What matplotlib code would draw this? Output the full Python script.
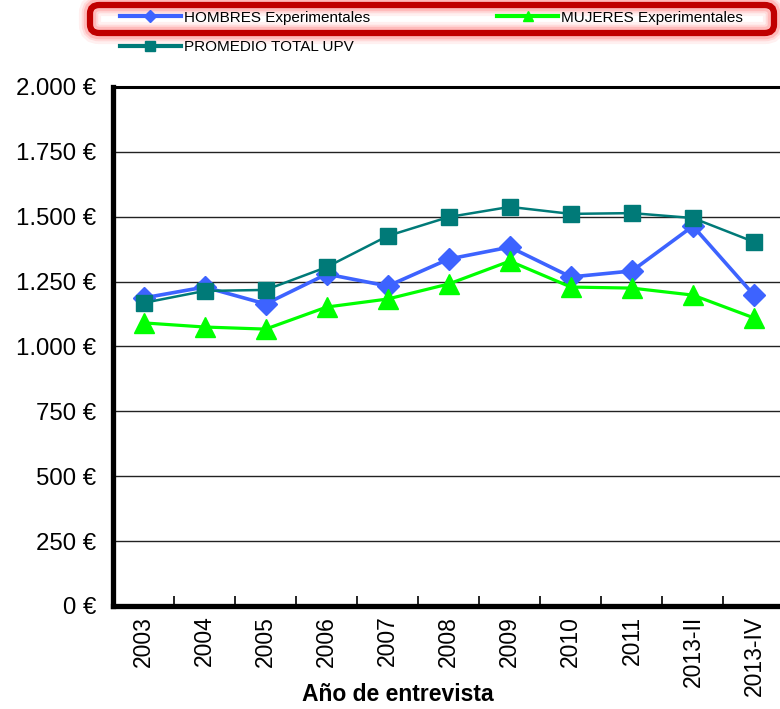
import numpy as np
import matplotlib.pyplot as plt
from matplotlib.lines import Line2D
from matplotlib.patches import FancyBboxPatch

plt.rcParams['font.family'] = ['Liberation Sans', 'DejaVu Sans']

# Datos
categorias = ['2003', '2004', '2005', '2006', '2007', '2008', '2009',
              '2010', '2011', '2013-II', '2013-IV']
hombres = [1187, 1229, 1164, 1279, 1233, 1337, 1383, 1268, 1291, 1464, 1198]
mujeres = [1091, 1075, 1067, 1152, 1183, 1241, 1329, 1229, 1225, 1198, 1110]
promedio = [1168, 1214, 1218, 1306, 1426, 1499, 1538, 1511, 1514, 1495, 1403]
yticks = [0, 250, 500, 750, 1000, 1250, 1500, 1750, 2000]

c_hom = '#3D63FF'
c_muj = '#00FF00'
c_pro = '#007A78'

fig = plt.figure(figsize=(7.8, 7.09), dpi=100)
ax = fig.add_axes([0.1449, 0.1453, 0.8609, 0.732])

x = np.arange(len(categorias))
ax.plot(x, hombres, color=c_hom, lw=2.6, marker='D', ms=11, zorder=3)
ax.plot(x, mujeres, color=c_muj, lw=2.3, marker='^', ms=14, zorder=4)
ax.plot(x, promedio, color=c_pro, lw=1.8, marker='s', ms=12, zorder=5)

ax.set_xlim(-0.5, len(categorias) - 0.5)
ax.set_ylim(0, 2000)
ax.set_yticks(yticks)
ax.set_yticklabels([f'{v:,} €'.replace(',', '.') for v in yticks])
ax.yaxis.grid(True, color='#222222', lw=1.0)
ax.set_axisbelow(True)
ax.tick_params(axis='y', length=0, pad=12, labelsize=17.3)

# ticks del eje x en los limites de categoria
ax.set_xticks(np.arange(len(categorias) + 1) - 0.5)
ax.set_xticklabels([])
ax.set_xticks(x, minor=True)
ax.set_xticklabels(categorias, minor=True, rotation=90, va='top', fontsize=16.5)
ax.tick_params(axis='x', which='major', direction='in', length=7, width=1.2)
ax.tick_params(axis='x', which='minor', length=0, pad=7)
ax.set_xlabel('Año de entrevista', fontsize=16.5, fontweight='bold', va='center')
ax.xaxis.set_label_coords(0.424, -0.171)

ax.spines['left'].set_linewidth(3.8)
ax.spines['bottom'].set_linewidth(3.8)
ax.spines['top'].set_linewidth(2.2)
ax.spines['right'].set_visible(False)

# leyenda
handles = [
    Line2D([], [], color=c_hom, lw=3, marker='D', ms=6),
    Line2D([], [], color=c_pro, lw=3, marker='s', ms=7),
    Line2D([], [], color=c_muj, lw=3, marker='^', ms=7),
]
labels = ['HOMBRES Experimentales', 'PROMEDIO TOTAL UPV', 'MUJERES Experimentales']
fig.legend(handles, labels, ncol=2, loc='upper left', bbox_to_anchor=(0.14, 1.0),
           frameon=False, fontsize=11, handlelength=4.0, handletextpad=0.2,
           columnspacing=8.3, labelspacing=1.0, borderaxespad=0.3)

# recuadro rojo resaltado
for lw, a in [(16, 0.08), (12, 0.12), (9, 0.2)]:
    fig.patches.append(FancyBboxPatch((90 / 780, 1 - 33 / 709), 684 / 780, 28 / 709,
                                      boxstyle='round,pad=0,rounding_size=0.012',
                                      transform=fig.transFigure, fill=False,
                                      edgecolor='#FF4040', lw=lw, alpha=a))
fig.patches.append(FancyBboxPatch((90 / 780, 1 - 33 / 709), 684 / 780, 28 / 709,
                                  boxstyle='round,pad=0,rounding_size=0.012',
                                  transform=fig.transFigure, fill=False,
                                  edgecolor='#C00000', lw=4.5))

fig.savefig('out.png', dpi=100)
